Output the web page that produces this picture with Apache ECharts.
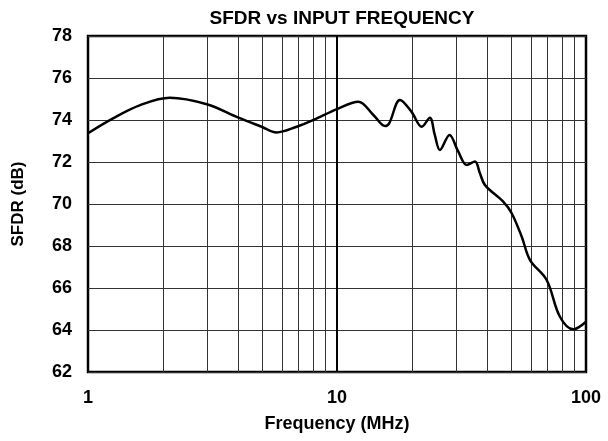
<!DOCTYPE html>
<html>
<head>
<meta charset="utf-8">
<script src="https://cdn.jsdelivr.net/npm/echarts@6/dist/echarts.min.js"></script>
<style>
  html, body { margin: 0; padding: 0; background: #fff; }
  #main { width: 608px; height: 441px; }
</style>
</head>
<body>
<div id="main"></div>
<script>
// frequency (MHz) and SFDR (dB)
var freq = [1, 1.26, 1.62, 2.13, 3.0, 4.02, 4.98, 5.72, 6.89, 8.04, 10.0, 12.18, 14.0, 15.6, 16.2, 17.9, 19.9, 21.9, 23.6, 24.7, 25.9, 28.3, 30.7, 33.2, 35.8, 37.5, 39.3, 46.5, 50.3, 55.2, 59.6, 69.5, 78.6, 88.9, 100];
var sfdr = [73.37, 74.08, 74.71, 75.06, 74.75, 74.11, 73.68, 73.41, 73.68, 74.0, 74.52, 74.87, 74.24, 73.71, 73.84, 74.95, 74.4, 73.68, 74.11, 73.29, 72.57, 73.29, 72.49, 71.86, 72.02, 71.46, 70.9, 70.11, 69.56, 68.44, 67.33, 66.38, 64.63, 64.03, 64.39];
// minor vertical grid lines (log decades)
var minorFreq = [2, 3, 4, 5, 6, 7, 8, 9, 20, 30, 40, 50, 60, 70, 80, 90];
var decadeFreq = [10];

var font = "'Liberation Sans', Arial, sans-serif";
var myChart = echarts.init(document.getElementById('main'));

var points = [];
for (var i = 0; i < freq.length; i++) {
    points.push([freq[i], sfdr[i]]);
}
var minorLines = minorFreq.map(function (f) { return { xAxis: f }; });
var decadeLines = decadeFreq.map(function (f) { return { xAxis: f }; });

myChart.setOption({
    animation: false,
    title: {
        text: 'SFDR vs INPUT FREQUENCY',
        left: 337,
        textAlign: 'center',
        top: 4,
        textStyle: { fontFamily: font, fontWeight: 'bold', fontSize: 19, color: '#000' }
    },
    grid: {
        left: 88, right: 22, top: 36, bottom: 69,
        show: true, borderColor: '#000', borderWidth: 2.5, backgroundColor: '#fff'
    },
    xAxis: {
        type: 'log',
        logBase: 10,
        min: 1,
        max: 100,
        name: 'Frequency (MHz)',
        nameLocation: 'middle',
        nameGap: 43,
        nameTextStyle: { fontFamily: font, fontWeight: 'bold', fontSize: 18, color: '#000' },
        axisLine: { show: false },
        axisTick: { show: false },
        splitLine: { show: false },
        axisLabel: { fontFamily: font, fontWeight: 'bold', fontSize: 18, color: '#000', margin: 17 }
    },
    yAxis: {
        type: 'value',
        min: 62,
        max: 78,
        interval: 2,
        name: 'SFDR (dB)',
        nameLocation: 'middle',
        nameGap: 61,
        nameTextStyle: { fontFamily: font, fontWeight: 'bold', fontSize: 17, color: '#000' },
        axisLine: { show: false },
        axisTick: { show: false },
        splitLine: { show: true, lineStyle: { color: '#333', width: 1 } },
        axisLabel: { fontFamily: font, fontWeight: 'bold', fontSize: 18, color: '#000', margin: 16 }
    },
    series: [
        {
            type: 'line',
            data: points,
            smooth: 0.35,
            symbol: 'none',
            lineStyle: { color: '#000', width: 2.5 },
            z: 5,
            markLine: {
                silent: true,
                symbol: 'none',
                label: { show: false },
                lineStyle: { color: '#333', width: 1, type: 'solid' },
                data: minorLines
            }
        },
        {
            type: 'line',
            data: [],
            markLine: {
                silent: true,
                symbol: 'none',
                label: { show: false },
                lineStyle: { color: '#000', width: 2, type: 'solid' },
                data: decadeLines
            }
        }
    ]
});
</script>
</body>
</html>
